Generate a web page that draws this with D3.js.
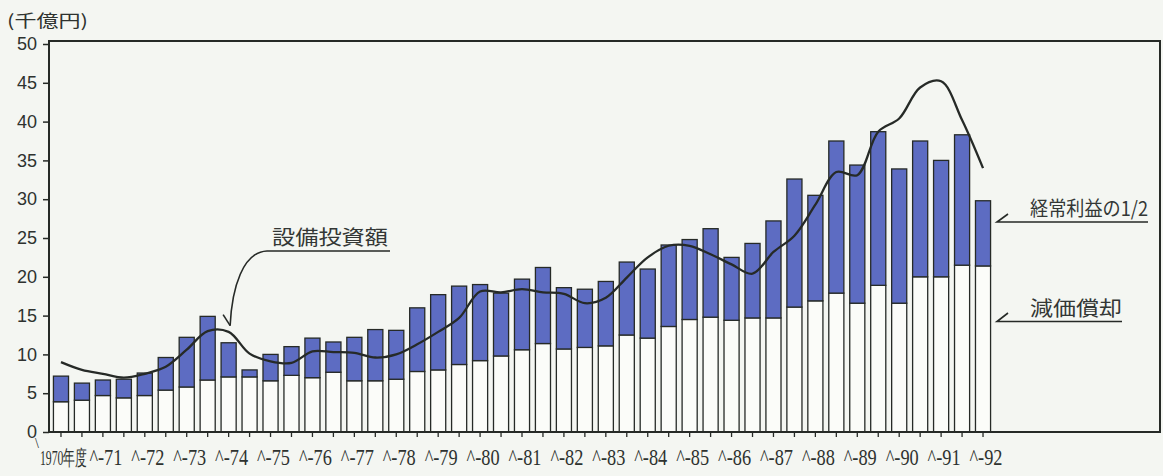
<!DOCTYPE html>
<html>
<head>
<meta charset="utf-8">
<script src="https://cdn.jsdelivr.net/npm/d3@7/dist/d3.min.js"></script>
<style>
  html, body { margin: 0; padding: 0; background: #f4f6f2; }
  svg { display: block; }
</style>
</head>
<body>
<svg id="chart" width="1163" height="476"></svg>
<script>
// Half-year periods, fiscal 1970 first half through fiscal 1992 first half
const periods = [
  "1970上","1970下","1971上","1971下","1972上","1972下","1973上","1973下",
  "1974上","1974下","1975上","1975下","1976上","1976下","1977上","1977下",
  "1978上","1978下","1979上","1979下","1980上","1980下","1981上","1981下",
  "1982上","1982下","1983上","1983下","1984上","1984下","1985上","1985下",
  "1986上","1986下","1987上","1987下","1988上","1988下","1989上","1989下",
  "1990上","1990下","1991上","1991下","1992上"
];

// 減価償却 (千億円)
const depreciation = [
  3.9, 4.1, 4.7, 4.4, 4.7, 5.4, 5.8, 6.7, 7.1, 7.1,
  6.6, 7.3, 7.0, 7.7, 6.6, 6.6, 6.8, 7.8, 8.0, 8.7,
  9.2, 9.8, 10.6, 11.4, 10.7, 10.9, 11.1, 12.5, 12.1, 13.6,
  14.5, 14.8, 14.4, 14.7, 14.7, 16.1, 16.9, 17.9, 16.6, 18.9,
  16.6, 20.0, 20.0, 21.5, 21.4
];

// 経常利益の1/2, stacked on top of depreciation
const halfProfit = [
  3.3, 2.2, 2.0, 2.4, 2.9, 4.2, 6.4, 8.2, 4.4, 0.9,
  3.4, 3.7, 5.1, 3.9, 5.6, 6.6, 6.3, 8.2, 9.7, 10.1,
  9.8, 8.1, 9.1, 9.8, 7.9, 7.5, 8.3, 9.4, 8.9, 10.5,
  10.3, 11.4, 8.1, 9.6, 12.5, 16.5, 13.6, 19.6, 17.8, 19.8,
  17.3, 17.5, 15.0, 16.8, 8.4
];

// 設備投資額
const investment = [
  9.0, 8.0, 7.5, 7.0, 7.5, 8.4, 10.6, 13.0, 12.9, 10.1,
  9.1, 8.9, 10.4, 10.3, 10.2, 9.6, 10.0, 11.3, 12.9, 14.7,
  18.1, 18.0, 18.4, 18.0, 17.8, 16.6, 17.3, 19.9, 22.5, 24.0,
  24.0, 22.9, 21.6, 20.4, 23.2, 25.3, 29.3, 33.5, 33.1, 38.7,
  40.4, 44.4, 45.2, 40.2, 34.0
];

const yTicks = [0, 5, 10, 15, 20, 25, 30, 35, 40, 45, 50];
const firstYearLabel = "1970年度";
const yearLabels = ["71","72","73","74","75","76","77","78","79","80","81",
                    "82","83","84","85","86","87","88","89","90","91","92"];

const svg = d3.select("#chart");
const INK = "#262a27";
const BLUE = "#5d6cc2";

const x = d3.scaleBand()
  .domain(periods)
  .range([50.5, 993.5])
  .paddingInner(0.28)
  .paddingOuter(0.14);
const cx = p => x(p) + x.bandwidth() / 2;

const y = d3.scaleLinear().domain([0, 50]).range([432, 44]);

const frameLeft = 49, frameRight = 1160, frameTop = y(50) - 3, frameBottom = y(0);

// stacked bars
const bars = svg.append("g").attr("class", "bars");
periods.forEach((p, i) => {
  const base = depreciation[i];
  const top = base + halfProfit[i];
  bars.append("rect")
    .attr("x", x(p)).attr("width", x.bandwidth())
    .attr("y", y(base)).attr("height", y(0) - y(base))
    .attr("fill", "#fbfcf9").attr("stroke", INK).attr("stroke-width", 1.3);
  bars.append("rect")
    .attr("x", x(p)).attr("width", x.bandwidth())
    .attr("y", y(top)).attr("height", y(base) - y(top))
    .attr("fill", BLUE).attr("stroke", INK).attr("stroke-width", 1.3);
});

// investment line
const line = d3.line()
  .x((d, i) => cx(periods[i]))
  .y(d => y(d))
  .curve(d3.curveCatmullRom.alpha(0.5));
svg.append("path")
  .datum(investment)
  .attr("d", line)
  .attr("fill", "none")
  .attr("stroke", INK)
  .attr("stroke-width", 2.3)
  .attr("stroke-linejoin", "round");

// frame
svg.append("rect")
  .attr("x", frameLeft).attr("y", frameTop)
  .attr("width", frameRight - frameLeft).attr("height", frameBottom - frameTop)
  .attr("fill", "none").attr("stroke", INK).attr("stroke-width", 2);

// y axis
const yAxis = svg.append("g")
  .attr("transform", `translate(${frameLeft},0)`)
  .call(d3.axisLeft(y).tickValues(yTicks).tickSize(6).tickPadding(6));
yAxis.select(".domain").remove();
yAxis.selectAll(".tick line").attr("stroke", INK).attr("stroke-width", 1.5);
yAxis.selectAll(".tick text")
  .attr("fill", "#2e322f")
  .style("font-family", "'Liberation Sans', Arial, sans-serif")
  .style("font-size", "18px");

// x axis ticks
const xAxis = svg.append("g")
  .attr("transform", `translate(0,${frameBottom})`)
  .call(d3.axisBottom(x).tickSize(5).tickFormat(""));
xAxis.select(".domain").remove();
xAxis.selectAll(".tick line").attr("stroke", INK).attr("stroke-width", 1.3);

// x labels: "1970年度" under the first year, then "^-yy" with digits starting at each year's first-half tick
const serif = "'Liberation Serif', 'Times New Roman', serif";
const labelBase = 465;
const xl = svg.append("g").attr("fill", "#2e322f");
const x0 = cx(periods[0]);
xl.append("text").attr("x", x0 - 26).attr("y", labelBase - 17)
  .style("font-family", serif).style("font-size", "14px").text("\\");
xl.append("text")
  .attr("transform", `translate(${x0 - 21},${labelBase}) scale(0.56,1)`)
  .style("font-family", serif).style("font-size", "21px").text(firstYearLabel);
yearLabels.forEach((lab, k) => {
  const tx = cx(periods[2 * (k + 1)]);
  xl.append("text").attr("x", tx - 13.5).attr("y", labelBase)
    .attr("textLength", 33).attr("lengthAdjust", "spacingAndGlyphs")
    .style("font-family", serif).style("font-size", "24px").text("^-" + lab);
});

// unit label
const jp = "'Noto Sans CJK JP', sans-serif";
svg.append("text").attr("x", 7).attr("y", 27)
  .attr("fill", "#2e322f")
  .attr("textLength", 81).attr("lengthAdjust", "spacingAndGlyphs")
  .style("font-family", jp).style("font-size", "17px").text("(千億円)");

// annotations
const ann = svg.append("g").attr("fill", "none").attr("stroke", INK).attr("stroke-width", 1.6);
const text = (tx, ty, len, s) => svg.append("text").attr("x", tx).attr("y", ty)
  .attr("fill", "#333735").attr("textLength", len).attr("lengthAdjust", "spacingAndGlyphs")
  .style("font-family", jp).style("font-size", "20px").text(s);

// 設備投資額 with curved pointer
const tipX = cx(periods[8]) + 1.5, tipY = y(13.7);
ann.append("path").attr("d", `M390,251 L267,251 C243,252 232,287 ${tipX},${tipY}`);
ann.append("path").attr("d", `M${tipX - 7},${tipY - 11} L${tipX},${tipY}`);
text(272, 245, 116, "設備投資額");

// 経常利益の1/2
ann.append("path").attr("d", "M1008,214 L997,222 L1148,222");
text(1030, 216, 118, "経常利益の1/2");

// 減価償却
ann.append("path").attr("d", "M1008,313 L997,321.5 L1122,321.5");
text(1030, 316, 92, "減価償却");
</script>
</body>
</html>
